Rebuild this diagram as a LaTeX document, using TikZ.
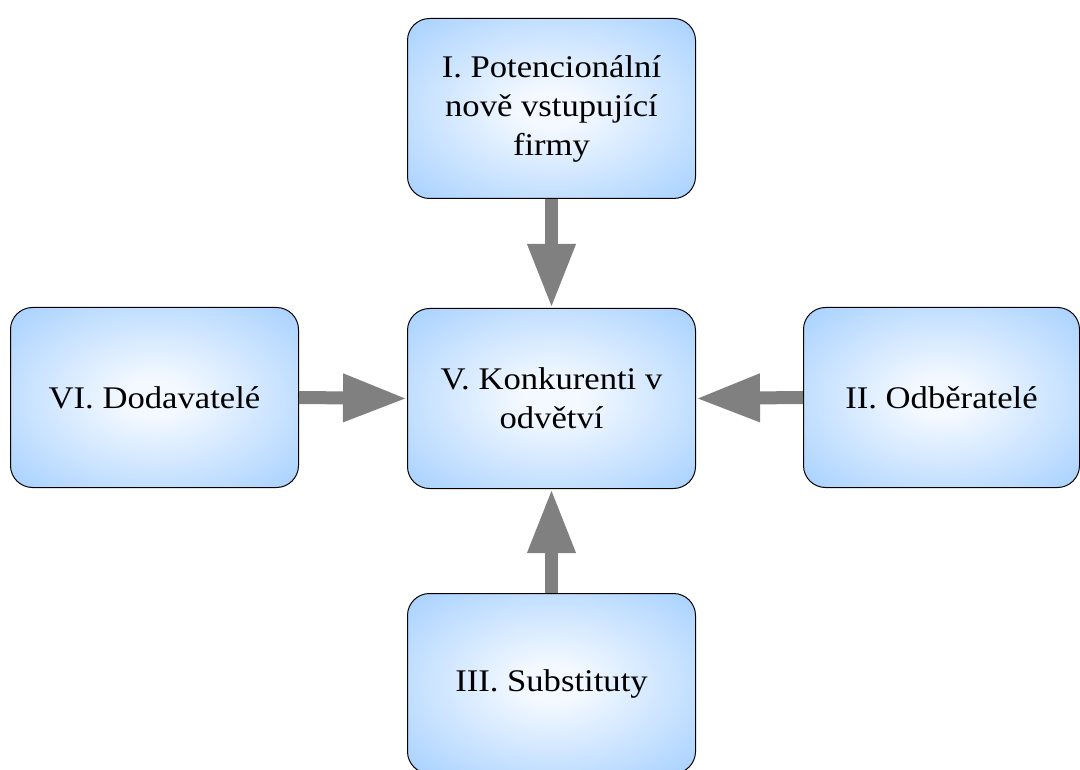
\documentclass[tikz,border=0pt]{standalone}
\usepackage{fontspec}
\setmainfont{Liberation Serif}[FakeStretch=1.1]
\usetikzlibrary{arrows.meta}
\definecolor{boxedge}{RGB}{150,200,255}
\definecolor{boxmid}{RGB}{244,249,255}
\definecolor{arrowgray}{RGB}{128,128,128}
% soft glow: pale centre fading to blue towards the box border
\pgfdeclareradialshading{softglow}{\pgfpoint{0bp}{0bp}}{%
  color(0bp)=(boxmid); color(5bp)=(boxmid);
  color(42bp)=(boxedge); color(72bp)=(boxedge)}
\begin{document}
\begin{tikzpicture}[x=1pt,y=-1pt,
  force/.style={draw=black, line width=1pt, rounded corners=22pt,
    shading=softglow,
    minimum width=288pt, minimum height=180pt, anchor=north west,
    align=center, font=\fontsize{31.5}{39}\selectfont, text=black},
  push/.style={draw=arrowgray, line width=13pt,
    -{Triangle[length=64pt 0 0, width=45pt 0 0, fill=arrowgray]}}]
  \useasboundingbox (0,0) rectangle (1080,770);
  % the five forces
  \node[force] (entrants) at (407,18) {I. Potencionální\\nově vstupující\\firmy};
  \node[force] (rivals) at (407,308) {V. Konkurenti v\\odvětví};
  \node[force] (suppliers) at (10,307) {VI. Dodavatelé};
  \node[force, minimum width=276pt] (buyers) at (803,307) {II. Odběratelé};
  \node[force] (substitutes) at (407,593) {III. Substituty};
  % pressure arrows towards the rivalry box
  \draw[push] (entrants.south) -- (rivals.north);
  \draw[push] (substitutes.north) -- (rivals.south);
  \draw[push] (suppliers.east) -- (rivals.west);
  \draw[push] (buyers.west) -- (rivals.east);
\end{tikzpicture}
\end{document}
